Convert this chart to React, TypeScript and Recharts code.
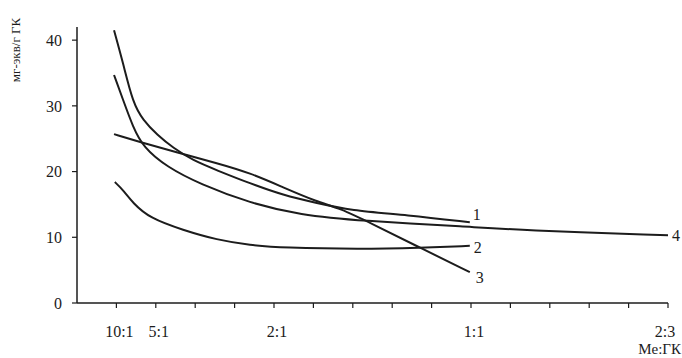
import { LineChart, Line, XAxis, YAxis } from 'recharts';

const FONT = '"Liberation Serif", "Times New Roman", serif';
const INK = '#1c1c1c';

// x positions: 1 = 10:1, 2 = 5:1, 5 = 2:1, 10 = 1:1, 15 = 2:3
const xTicks = [1, 2, 3, 4, 5, 6, 7, 8, 9, 10, 11, 12, 13, 14, 15];
const xTickLabels: Record<number, string> = { 1: '10:1', 2: '5:1', 5: '2:1', 10: '1:1', 15: '2:3' };
const yTicks = [0, 10, 20, 30, 40];

// curve 1
const curve1X = [0.94, 1.17, 1.42, 1.68, 2.03, 2.44, 2.94, 3.55, 4.39, 5.23, 6.09, 6.93, 8.38, 9.97];
const curve1Y = [41.5, 36.5, 30.4, 27.8, 25.6, 23.6, 21.7, 20.2, 18.2, 16.4, 15.2, 14.1, 13.4, 12.3];

// curve 2
const curve2X = [0.96, 1.17, 1.42, 1.85, 2.69, 3.55, 4.39, 5.23, 7.18, 8.71, 9.97];
const curve2Y = [18.4, 17.2, 15.2, 12.9, 11.1, 9.6, 8.8, 8.4, 8.2, 8.4, 8.7];

// curve 3
const curve3X = [0.94, 1.6, 2.54, 3.55, 4.39, 5.23, 6.09, 6.68, 7.44, 8.71, 9.97];
const curve3Y = [25.7, 24.5, 22.9, 21.3, 19.8, 17.6, 15.4, 14.4, 12.2, 8.4, 4.7];

// curve 4
const curve4X = [0.94, 1.17, 1.42, 1.68, 2.28, 3.12, 4.39, 5.66, 7.18, 9.97, 11.24, 15];
const curve4Y = [34.7, 30.9, 26.8, 23.7, 20.7, 18.1, 15.2, 13.4, 12.5, 11.6, 11.1, 10.3];

const toPoints = (xs: number[], ys: number[]) => xs.map((x, i) => ({ x, y: ys[i] }));

const series = [
  { name: '1', data: toPoints(curve1X, curve1Y), dx: 3, dy: -2 },
  { name: '2', data: toPoints(curve2X, curve2Y), dx: 4, dy: 7 },
  { name: '3', data: toPoints(curve3X, curve3Y), dx: 6, dy: 11 },
  { name: '4', data: toPoints(curve4X, curve4Y), dx: 4, dy: 6 },
];

// number written next to the last point of each curve
const endLabel = (text: string, last: number, dx: number, dy: number) => (props: any) => {
  if (props.index !== last) return null;
  return (
    <text x={props.x + dx} y={props.y + dy} fill={INK} fontSize={16} fontFamily={FONT}>
      {text}
    </text>
  );
};

const XTick = (props: any) => {
  const { x, y, payload } = props;
  const text = xTickLabels[payload.value];
  if (!text) return null;
  const shift = payload.value === 15 ? -3 : 3;
  return (
    <text x={x + shift} y={y + 11} textAnchor="middle" fill={INK} fontSize={16} fontFamily={FONT}>
      {text}
    </text>
  );
};

const YTitle = () => (
  <text
    transform="translate(20,50) rotate(-90)"
    textAnchor="middle"
    fill={INK}
    fontSize={13}
    fontFamily={FONT}
  >
    мг-экв/г ГК
  </text>
);

const XTitle = () => (
  <text x={681} y={354} textAnchor="end" fill={INK} fontSize={15} fontFamily={FONT}>
    Me:ГК
  </text>
);

const App = () => {
  return (
    <div style={{ position: 'absolute', left: 0, top: 0, width: 682, height: 358, background: '#fff' }}>
      <LineChart width={682} height={358} margin={{ top: 27, right: 14, bottom: 0, left: 0 }}>
        <XAxis
          type="number"
          dataKey="x"
          domain={[0, 15]}
          ticks={xTicks}
          interval={0}
          height={55}
          tickSize={5}
          tickMargin={18}
          tick={XTick}
          axisLine={{ stroke: INK, strokeWidth: 1.5 }}
          tickLine={{ stroke: INK, strokeWidth: 1.2 }}
          label={<XTitle />}
        />
        <YAxis
          type="number"
          dataKey="y"
          domain={[0, 42]}
          ticks={yTicks}
          width={77}
          tickSize={5}
          tickMargin={10}
          tick={{ fill: INK, fontSize: 16, fontFamily: FONT }}
          axisLine={{ stroke: INK, strokeWidth: 1.5 }}
          tickLine={{ stroke: INK, strokeWidth: 1.2 }}
          label={<YTitle />}
        />
        {series.map((s) => (
          <Line
            key={s.name}
            name={s.name}
            data={s.data}
            dataKey="y"
            type="basis"
            stroke={INK}
            strokeWidth={2}
            dot={false}
            activeDot={false}
            isAnimationActive={false}
            label={endLabel(s.name, s.data.length - 1, s.dx, s.dy)}
          />
        ))}
      </LineChart>
    </div>
  );
};

export default App;
